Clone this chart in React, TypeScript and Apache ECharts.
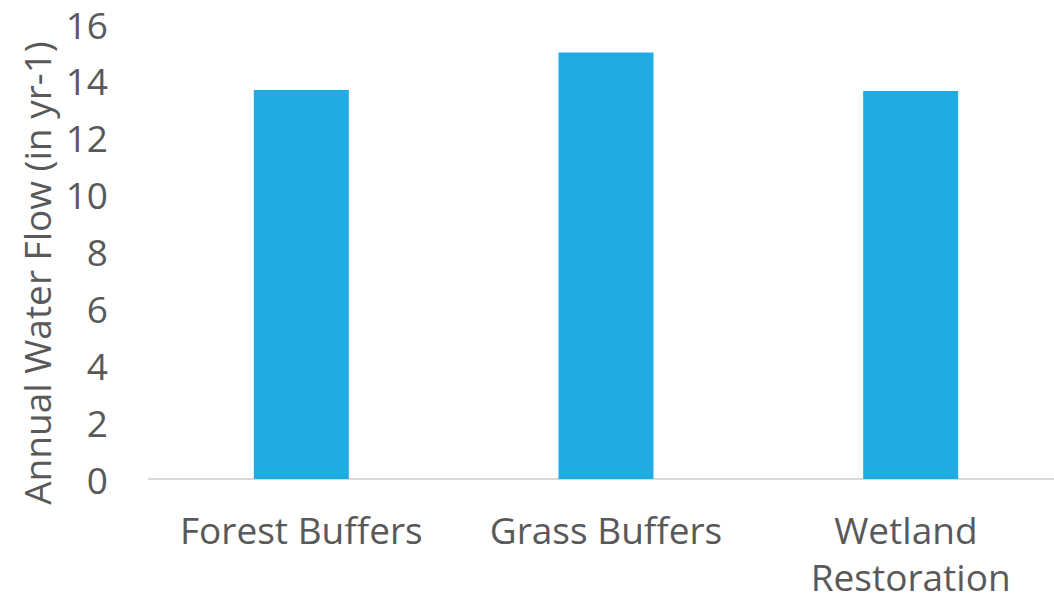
import React, { useEffect, useRef } from "react";
import * as echarts from "echarts";

const categories = ["Forest Buffers", "Grass Buffers", "Wetland Restoration"];
const annualFlow = [13.68, 15.0, 13.64];
const yTitle = "Annual Water Flow (in yr-1)";

const FONT = "'Open Sans', 'Noto Sans', sans-serif";
const TEXT = "#595959";

export default function App() {
  const ref = useRef<HTMLDivElement>(null);

  useEffect(() => {
    if (!ref.current) return;
    const chart = echarts.init(ref.current, null, { renderer: "svg" });
    chart.setOption({
      animation: false,
      backgroundColor: "#ffffff",
      grid: {
        left: 149,
        right: -9,
        top: 24,
        bottom: 124,
        containLabel: false,
        outerBoundsMode: "none",
      },
      xAxis: {
        type: "category",
        data: categories,
        axisLine: { lineStyle: { color: "#D9D9D9", width: 2 } },
        axisTick: { show: false },
        axisLabel: {
          interval: 0,
          color: TEXT,
          fontFamily: FONT,
          fontSize: 37,
          margin: 27,
          width: 290,
          overflow: "break",
          lineHeight: 47,
        },
      },
      yAxis: {
        type: "value",
        min: 0,
        max: 16,
        interval: 2,
        axisLine: { show: false },
        axisTick: { show: false },
        splitLine: { show: false },
        axisLabel: {
          color: TEXT,
          fontFamily: FONT,
          fontSize: 37,
          margin: 41,
        },
      },
      graphic: [
        {
          type: "text",
          x: 36,
          y: 273,
          rotation: Math.PI / 2,
          style: {
            text: yTitle,
            fill: TEXT,
            font: `37px ${FONT}`,
            align: "center",
            verticalAlign: "middle",
          },
        },
      ],
      series: [
        {
          type: "bar",
          data: annualFlow,
          barWidth: 95,
          itemStyle: { color: "#1EACE3" },
        },
      ],
    });
    return () => chart.dispose();
  }, []);

  return (
    <div
      ref={ref}
      style={{ position: "fixed", left: 0, top: 0, width: 1054, height: 603 }}
    />
  );
}
